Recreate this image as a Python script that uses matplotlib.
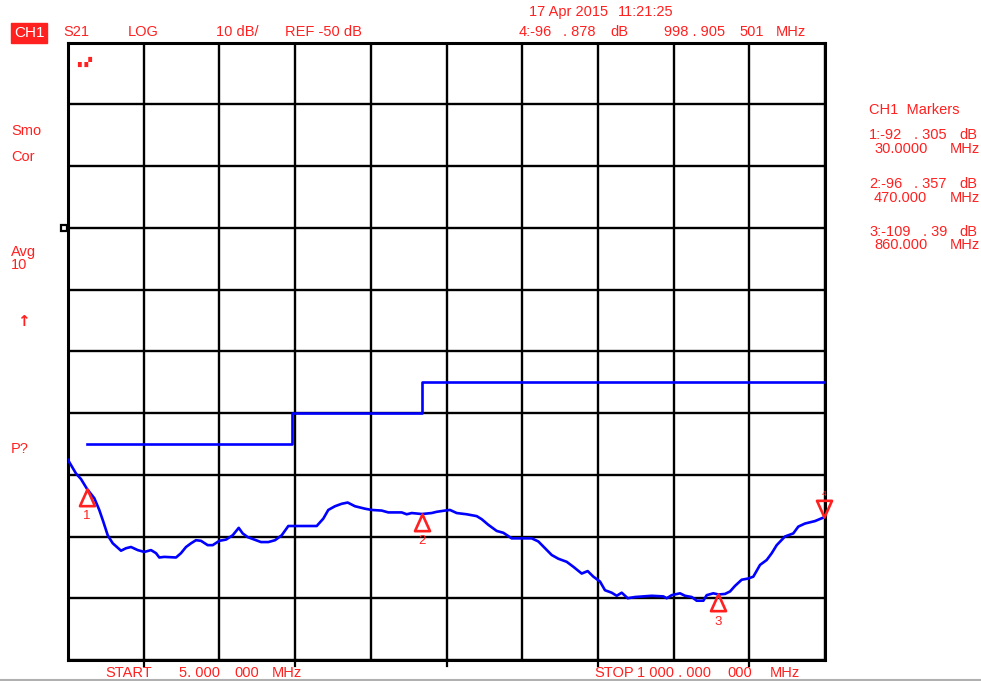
import matplotlib
matplotlib.use("Agg")
import matplotlib.pyplot as plt
import matplotlib.transforms as mtransforms
import numpy as np
from matplotlib.path import Path

# ---------------- data ----------------
freq_mhz = [5, 15.5, 22.1, 30.0, 39.6, 46.1, 51.4, 57.2, 63.8, 74.7, 81.2, 87.8, 96.6, 105.3,
            114.1, 120.7, 125, 131.6, 147, 153.5, 160.1, 166.7, 173.2, 179.8, 188.6, 195.2,
            203.9, 212.7, 221.5, 229.4, 234.6, 241.2, 249.9, 258.7, 268.3, 277.1, 285.9,
            294.6, 307.7, 331.9, 340.6, 347.1, 355.9, 364.8, 372.6, 382.2, 395.4, 404.2,
            417.3, 426, 443.6, 450.2, 456.8, 470.0, 483, 489.6, 500.5, 507.1, 515.9, 529,
            542.2, 548.8, 557.4, 568.5, 577.2, 588.2, 614.5, 623.2, 632, 640.8, 649.5,
            660.5, 669.2, 680.2, 688.1, 695.5, 704.3, 710.8, 719.6, 726.2, 732.8, 740.7,
            750.3, 772.2, 787.5, 791.9, 798.5, 809.4, 816, 824.8, 831.4, 840.1, 844.5,
            853.2, 860.0, 868.6, 875.2, 881.7, 890.5, 899.2, 905.8, 914.6, 923.4, 930,
            936.5, 947.4, 958.3, 964.9, 973.7, 986.9, 998.9, 1000]
s21_db = [-87.6, -89.8, -90.7, -92.3, -93.8, -95.7, -97.6, -99.8, -101.1, -102.3, -101.9,
          -101.7, -102.2, -102.5, -102.2, -102.7, -103.4, -103.3, -103.4, -102.7, -101.7,
          -101.1, -100.6, -100.7, -101.4, -101.4, -100.7, -100.5, -99.8, -98.6, -99.5,
          -100.1, -100.5, -100.9, -100.9, -100.6, -99.8, -98.3, -98.3, -98.3, -97.1, -95.7,
          -95.1, -94.7, -94.5, -95.1, -95.5, -95.7, -95.8, -96.1, -96.1, -96.4, -96.2,
          -96.36, -96.2, -96.0, -95.8, -95.7, -96.2, -96.4, -96.7, -97.2, -98.1, -99.1,
          -99.4, -100.3, -100.3, -100.8, -101.9, -103.0, -103.6, -104.1, -104.9, -106.0,
          -105.6, -106.5, -107.3, -108.7, -109.1, -109.6, -109.1, -110.0, -109.8, -109.6,
          -109.7, -110.0, -109.5, -109.2, -109.6, -109.8, -110.4, -110.4, -109.5, -109.2,
          -109.39, -109.3, -108.9, -108.0, -107.0, -106.8, -106.5, -104.6, -103.8, -102.7,
          -101.4, -100.0, -99.5, -98.4, -97.9, -97.5, -96.88, -96.8]

limit_freq = [30, 300, 300, 470, 470, 1000]
limit_db = [-85, -85, -80, -80, -75, -75]

marker_ids = ["1", "2", "3"]
marker_freq = [30.0, 470.0, 860.0]
marker_db = [-92.305, -96.357, -109.39]
marker4_freq = 998.905501
marker4_db = -96.878

start_mhz, stop_mhz = 5, 1000
ref_db, db_per_div = -50, 10

# ---------------- figure ----------------
W, H = 981, 681
fig = plt.figure(figsize=(W / 100, H / 100), dpi=100)
plt.rcParams['font.family'] = ['Liberation Sans', 'DejaVu Sans']
RED = "#ff2020"
BLUE = "#0000ff"
FS = 10.5

L, R, T, B = 68, 825, 42.5, 660
ax = fig.add_axes([L / W, 1 - B / H, (R - L) / W, (B - T) / H])
ax.set_xlim(start_mhz, stop_mhz)
ax.set_ylim(ref_db - 7 * db_per_div, ref_db + 3 * db_per_div)
ax.set_xticks(np.linspace(start_mhz, stop_mhz, 11))
ax.set_yticks(np.arange(ref_db - 7 * db_per_div, ref_db + 3 * db_per_div + 1, db_per_div))
ax.grid(True, color="black", linewidth=1.7)
ax.tick_params(left=False, bottom=False, labelleft=False, labelbottom=False)
for s in ax.spines.values():
    s.set_linewidth(2.2)
    s.set_color("black")

# trace and limit line
ax.plot(freq_mhz, s21_db, color=BLUE, linewidth=1.9, zorder=3)
ax.plot(limit_freq, limit_db, color=BLUE, linewidth=1.9, zorder=3)

# marker triangles with apex at the trace point
up_tri = Path([(0, 0), (-0.45, -1), (0.45, -1), (0, 0)],
              [Path.MOVETO, Path.LINETO, Path.LINETO, Path.CLOSEPOLY])
down_tri = Path([(0, 0), (-0.45, 1), (0.45, 1), (0, 0)],
                [Path.MOVETO, Path.LINETO, Path.LINETO, Path.CLOSEPOLY])
for mid, mf, md in zip(marker_ids, marker_freq, marker_db):
    ax.plot([mf], [md], marker=up_tri, markersize=24, markerfacecolor="none",
            markeredgecolor=RED, markeredgewidth=1.9, linestyle="none", zorder=4,
            clip_on=False)
    ax.annotate(mid, (mf, md), xytext=(0, -19.5), textcoords="offset points",
                ha="center", va="center", color=RED, fontsize=9.5)
ax.plot([marker4_freq], [marker4_db], marker=down_tri, markersize=24,
        markerfacecolor="none", markeredgecolor=RED, markeredgewidth=1.9,
        linestyle="none", zorder=4, clip_on=False)
ax.annotate("4", (marker4_freq, marker4_db), xytext=(0, 16.5), textcoords="offset points",
            ha="center", va="center", color=RED, fontsize=6)

# reference position indicator just left of the left edge
ref_tr = mtransforms.offset_copy(ax.transData, fig=fig, x=-4.5, y=0, units="dots")
ax.plot([start_mhz], [ref_db], marker="s", markersize=5, color="black",
        markerfacecolor="white", markeredgewidth=1.6, clip_on=False,
        transform=ref_tr, zorder=5)

# ticks below bottom edge (every other division)
for xv in np.linspace(start_mhz, stop_mhz, 11)[1::2]:
    ax.plot([xv, xv], [0, -0.009], color="black", linewidth=1.6,
            transform=ax.get_xaxis_transform(), clip_on=False)


def ftext(x, y, s, **kw):
    kw.setdefault("color", RED)
    kw.setdefault("fontsize", FS)
    kw.setdefault("va", "center")
    fig.text(x / W, 1 - y / H, s, **kw)


# header
ftext(14, 33, "CH1", color="white", fontsize=11,
      bbox=dict(boxstyle="square,pad=0.18", facecolor=RED, edgecolor=RED))
for xpos, txt in zip([63, 128, 216, 285], ["S21", "LOG", "10 dB/", "REF -50 dB"]):
    ftext(xpos, 32, txt)
ftext(529, 12, "17 Apr 2015")
ftext(618, 12, "11:21:25")
for xpos, txt in zip([519, 563, 610, 664, 739, 776],
                     ["4:-96", ". 878", "dB", "998 . 905", "501", "MHz"]):
    ftext(xpos, 32, txt)

# left annotations
ftext(11, 131, "Smo")
ftext(11, 157, "Cor")
ftext(11, 252, "Avg")
ftext(11, 265, "10")
ftext(17, 321, "↑", fontsize=11, fontweight="bold", family="DejaVu Sans")
ftext(11, 449, "P?")
ftext(77, 62, "▖▞", fontsize=7, family="DejaVu Sans")

# marker list on the right
ftext(869, 110, "CH1  Markers")
rows = [(135, ["1:-92", ". 305", "dB"], [869, 914, 959]),
        (149, ["30.0000", "MHz"], [874, 950]),
        (184, ["2:-96", ". 357", "dB"], [869, 914, 959]),
        (198, ["470.000", "MHz"], [874, 950]),
        (232, ["3:-109", ". 39", "dB"], [869, 923, 959]),
        (245, ["860.000", "MHz"], [874, 950])]
for yv, txts, xs in rows:
    for xpos, txt in zip(xs, txts):
        ftext(xpos, yv, txt)

# footer
for xpos, txt in zip([105, 179, 234, 272], ["START", "5. 000", "000", "MHz"]):
    ftext(xpos, 673, txt)
for xpos, txt in zip([594, 637, 727, 770], ["STOP", "1 000 . 000", "000", "MHz"]):
    ftext(xpos, 673, txt)
fig.add_artist(plt.Line2D([0, 1], [1 - 680 / H, 1 - 680 / H], color="#b0b0b0",
                          linewidth=1.5, transform=fig.transFigure))

fig.savefig("out.png", dpi=100, facecolor="white")
